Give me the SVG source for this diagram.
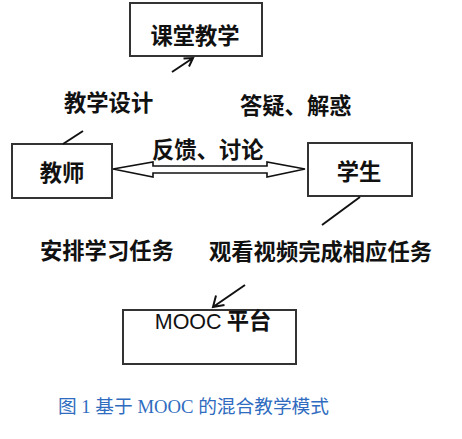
<svg xmlns="http://www.w3.org/2000/svg" width="462" height="439" viewBox="0 0 462 439">
<style>
.box{fill:#fff;stroke:#333;stroke-width:2}
.t{font-family:"Noto Sans CJK SC","Liberation Sans",sans-serif;font-weight:bold;font-size:22.3px;fill:#111}
.ln{stroke:#111;stroke-width:2;fill:none}
.cap{font-family:"Liberation Serif","Noto Sans CJK SC",serif;font-size:18.7px;fill:#2F6CC0}
</style>
<rect width="462" height="439" fill="#fff"/>
<g id="node-classroom"><rect class="box" x="130" y="3" width="132" height="53"/><text class="t" x="195" y="44" text-anchor="middle">课堂教学</text></g>
<g id="node-teacher"><rect class="box" x="12" y="144" width="100" height="54"/><text class="t" x="62" y="181" text-anchor="middle">教师</text></g>
<g id="node-student"><rect class="box" x="308" y="143" width="104" height="53"/><text class="t" x="359" y="180" text-anchor="middle">学生</text></g>
<g id="node-mooc"><rect class="box" x="123" y="310" width="173" height="54"/><text class="t" x="213" y="329" text-anchor="middle"><tspan font-family="Liberation Sans,sans-serif" font-weight="normal" font-size="21.5">MOOC</tspan> 平台</text></g>
<g id="connectors">
<path class="ln" d="M172 72 L193 58 M183.5 58.5 L193 58 L189 66.5"/>
<path class="ln" d="M63 144 L83 131"/>
<path class="ln" d="M360 197 L322 225"/>
<path class="ln" d="M245 285 L213 307 M216 295.5 L213 307 L224.5 305"/>
<path d="M113 169 L153 162 L153 166 L267 166 L267 162 L305 169 L267 177 L267 173 L153 173 L153 177 Z" fill="#fff" stroke="#111" stroke-width="1.6"/>
</g>
<g id="labels">
<text class="t" x="64" y="111">教学设计</text>
<text class="t" x="240" y="114">答疑、解惑</text>
<text class="t" x="152" y="158">反馈、讨论</text>
<text class="t" x="40" y="259">安排学习任务</text>
<text class="t" x="209" y="260">观看视频完成相应任务</text>
<text class="cap" x="58" y="413">图 1 基于 MOOC 的混合教学模式</text>
</g>
</svg>
